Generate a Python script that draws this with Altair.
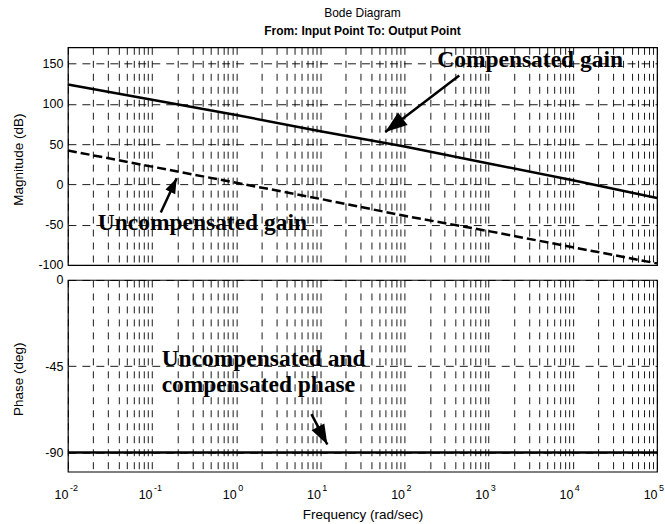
import altair as alt
import pandas as pd

# ---------------- data ----------------
freq = [0.01, 0.1, 1, 10, 100, 1000, 10000, 100000]
mag_compensated = [124, 105, 86, 66, 47, 26, 5, -17]
mag_uncompensated = [42, 22, 2, -18, -39, -58, -78, -98]
phase_deg = [-90, -90, -90, -90, -90, -90, -90, -90]

decade_exp = [-2, -1, 0, 1, 2, 3, 4, 5]
decade_exp_text = ["-2", "-1", "0", "1", "2", "3", "4", "5"]
minor_mult = [1, 2, 3, 4, 5, 6, 7, 8, 9]

mag_ticks = [-100, -50, 0, 50, 100, 150]
phase_ticks = [-90, -45, 0]

mag_notes = ["Compensated gain", "Uncompensated gain"]
mag_note_f = [245, 0.0227]
mag_note_db = [145, -56]
phase_notes = ["Uncompensated and", "compensated phase"]
phase_note_f = [0.13, 0.13]
phase_note_deg = [-45, -58.6]

# arrows: [tail, tip]
mag_arrow_f = [[447, 59], [0.127, 0.196]]
mag_arrow_db = [[135, 65], [-35, 7.5]]
phase_arrow_f = [[7.83, 12.1]]
phase_arrow_deg = [[-70, -85.8]]

# arrow-head styling (rotation in degrees, symbol size)
mag_arrow_angle = [233, 25]
mag_arrow_size = [1936, 900]
phase_arrow_angle = [152]
phase_arrow_size = [1600]

# ---------------- layout / style ----------------
W, H1, H2 = 590, 218, 192
FONT = "Liberation Sans"
SERIF = "Liberation Serif"
HEAD = "M0,0L-0.36,1L0.36,1Z"

grid_vals = [m * 10.0 ** e for e in decade_exp[:-1] for m in minor_mult] + [10.0 ** decade_exp[-1]]

xscale = alt.Scale(type="log", domain=[0.01, 100000], nice=False)
y_mag_scale = alt.Scale(domain=[-100, 170], nice=False, zero=False)
y_ph_scale = alt.Scale(domain=[-100, 0], nice=False, zero=False)

grid_kw = dict(grid=True, gridColor="black", gridWidth=0.9, gridOpacity=1,
               ticks=False, domain=False)

x_top_axis = alt.Axis(values=grid_vals, labels=False, title=None, gridDash=[7, 6], **grid_kw)
y_top_axis = alt.Axis(values=mag_ticks, gridDash=[8, 6], title="Magnitude (dB)",
                      labelExpr="'' + datum.value",
                      labelFont=FONT, labelFontSize=12.5, labelColor="black", labelPadding=5,
                      titleFont=FONT, titleFontSize=13.5, titleFontWeight="normal",
                      titleColor="black", titleX=-45, titleY=112, titleBaseline="alphabetic",
                      titleAngle=270, **grid_kw)

label_expr = ("abs(log(datum.value)/LN10 - round(log(datum.value)/LN10)) < 0.001 ? '10' : ''")
x_bot_axis = alt.Axis(values=grid_vals, labelExpr=label_expr, labelFont=FONT, labelFontSize=12.5,
                      labelColor="black", labelAlign="right", labelPadding=17,
                      labelOverlap=False, labelFlush=False,
                      title="Frequency  (rad/sec)", titleFont=FONT, titleFontSize=13.5,
                      titleFontWeight="normal", titleColor="black", titleX=W / 2, titleY=36,
                      titleBaseline="top", gridDash=[7, 6], **grid_kw)
y_bot_axis = alt.Axis(values=phase_ticks, gridDash=[8, 6], title="Phase (deg)",
                      labelExpr="'' + datum.value",
                      labelFont=FONT, labelFontSize=12.5, labelColor="black", labelPadding=5,
                      titleFont=FONT, titleFontSize=13.5, titleFontWeight="normal",
                      titleColor="black", titleX=-45, titleY=99, titleBaseline="alphabetic",
                      titleAngle=270, **grid_kw)

# ---------------- tables ----------------
df_comp = pd.DataFrame({"f": freq, "v": mag_compensated})
df_unc = pd.DataFrame({"f": freq, "v": mag_uncompensated})
df_phase = pd.DataFrame({"f": freq, "v": phase_deg})

df_mag_notes = pd.DataFrame({"f": mag_note_f, "v": mag_note_db, "t": mag_notes})
df_ph_notes = pd.DataFrame({"f": phase_note_f, "v": phase_note_deg, "t": phase_notes})


def shaft_df(fs, vs):
    rows = []
    for i, (fp, vp) in enumerate(zip(fs, vs)):
        for k in range(2):
            rows.append({"id": i, "k": k, "f": fp[k], "v": vp[k]})
    return pd.DataFrame(rows)


def head_df(fs, vs, angs, sizes):
    return pd.DataFrame({"f": [p[1] for p in fs], "v": [p[1] for p in vs],
                         "ang": angs, "sz": sizes})


df_exp = pd.DataFrame({"f": [10.0 ** e for e in decade_exp], "v": [0] * len(decade_exp),
                       "t": decade_exp_text})

note_style = dict(font=SERIF, fontSize=23.5, fontWeight="bold", align="left",
                  baseline="alphabetic", color="black")
head_style = dict(shape=HEAD, filled=True, color="black", opacity=1, strokeWidth=0)

# ---------------- magnitude panel ----------------
comp_line = alt.Chart(df_comp).mark_line(color="black", strokeWidth=2.5)
unc_line = alt.Chart(df_unc).mark_line(color="black", strokeWidth=2.5, strokeDash=[9, 4])
mag_text = alt.Chart(df_mag_notes).mark_text(**note_style).encode(text="t:N")
mag_shaft = alt.Chart(shaft_df(mag_arrow_f, mag_arrow_db)).mark_line(
    color="black", strokeWidth=2.5).encode(detail="id:N", order="k:O")
mag_head = alt.Chart(head_df(mag_arrow_f, mag_arrow_db, mag_arrow_angle, mag_arrow_size)).mark_point(
    **head_style).encode(angle=alt.Angle("ang:Q", scale=None), size=alt.Size("sz:Q", scale=None))

top = alt.layer(comp_line, unc_line, mag_shaft, mag_head, mag_text).encode(
    x=alt.X("f:Q", scale=xscale, axis=x_top_axis),
    y=alt.Y("v:Q", scale=y_mag_scale, axis=y_top_axis),
).properties(
    width=W, height=H1,
    title=alt.TitleParams(text="Bode Diagram", subtitle="From: Input Point  To: Output Point",
                          font=FONT, fontSize=12, fontWeight="normal", color="black",
                          subtitleFont=FONT, subtitleFontSize=12, subtitleFontWeight="bold",
                          subtitleColor="black", anchor="middle", frame="group",
                          offset=9, subtitlePadding=6))

# ---------------- phase panel ----------------
ph_line = alt.Chart(df_phase).mark_line(color="black", strokeWidth=2.5)
ph_text = alt.Chart(df_ph_notes).mark_text(**note_style).encode(text="t:N")
ph_shaft = alt.Chart(shaft_df(phase_arrow_f, phase_arrow_deg)).mark_line(
    color="black", strokeWidth=2.5).encode(detail="id:N", order="k:O")
ph_head = alt.Chart(head_df(phase_arrow_f, phase_arrow_deg, phase_arrow_angle, phase_arrow_size)).mark_point(
    **head_style).encode(angle=alt.Angle("ang:Q", scale=None), size=alt.Size("sz:Q", scale=None))
exp_text = alt.Chart(df_exp).mark_text(font=FONT, fontSize=9, align="left", baseline="top",
                                       dx=2, color="black").encode(
    y=alt.value(H2 + 12), text="t:N")

bottom = alt.layer(ph_line, ph_shaft, ph_head, ph_text, exp_text).encode(
    x=alt.X("f:Q", scale=xscale, axis=x_bot_axis),
    y=alt.Y("v:Q", scale=y_ph_scale, axis=y_bot_axis),
).properties(width=W, height=H2)

chart = alt.vconcat(top, bottom, spacing=15, bounds="flush").properties(
    padding={"left": 11, "top": 6, "right": 0, "bottom": 0},
    background="white",
).configure_view(stroke="black", strokeWidth=1.2)

chart.save("out.html", embed_options={"renderer": "svg", "actions": False})
